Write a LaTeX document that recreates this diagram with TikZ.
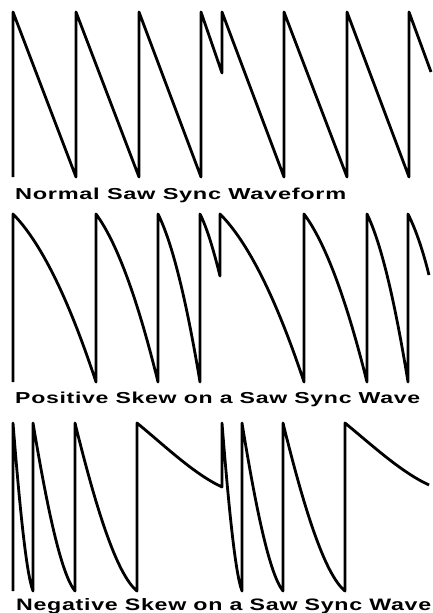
\documentclass[tikz,border=0pt]{standalone}
\usepackage{fontspec}
\usepackage{graphicx}
\usetikzlibrary{positioning}
\newfontfamily\wavefont[LetterSpace=3]{Liberation Sans}

\tikzset{
  wave/.style={draw=black, line width=2.8pt, line join=round},
  wavetitle/.style={anchor=base west, inner sep=0pt, font=\wavefont\bfseries},
}

\begin{document}
\begin{tikzpicture}[x=1pt, y=-1pt]
  \useasboundingbox (0,0) rectangle (433,613);

  % plain saw, reset by the sync at 222
  \draw[wave] (13,177) -- (13,12)
    \foreach \x in {76,139,201} { -- (\x,177) -- (\x,12) }
    -- (222,73) -- (222,12)
    \foreach \x in {284,347,409} { -- (\x,177) -- (\x,12) }
    -- (431,72);
  \node[wavetitle] (normaltitle) at (15,199) {\resizebox{331pt}{11.5pt}{Normal Saw Sync Waveform}};

  % positive skew
  \draw[wave] (13,382) -- (13,214)
    \foreach \a/\b in {13/96,96/158,158/200} {
      .. controls +({(\b-\a)/3},28) and +({(\a-\b)/3},-84) .. (\b,382) -- (\b,214) }
    .. controls +(7,14) and +(-7,-28) .. (220,276) -- (220,214)
    \foreach \a/\b in {220/304,304/367,367/408} {
      .. controls +({(\b-\a)/3},28) and +({(\a-\b)/3},-84) .. (\b,382) -- (\b,214) }
    .. controls +(7,14) and +(-7,-28) .. (429,275);
  \node[wavetitle] (postitle) at (15,403) {\resizebox{405pt}{11.5pt}{Positive Skew on a Saw Sync Wave}};

  % negative skew
  \draw[wave] (13,591) -- (13,423)
    \foreach \a/\b in {13/33,33/75,75/137} {
      .. controls +({(\b-\a)/3},84) and +({(\a-\b)/3},-17) .. (\b,591) -- (\b,423) }
    .. controls +(28,23) and +(-28,-13) .. (222,487) -- (222,423)
    \foreach \a/\b in {222/242,242/283,283/345} {
      .. controls +({(\b-\a)/3},84) and +({(\a-\b)/3},-17) .. (\b,591) -- (\b,423) }
    .. controls +(28,23) and +(-28,-13) .. (429,485);
  \node[wavetitle] (negtitle) at (16,610) {\resizebox{415pt}{12pt}{Negative Skew on a Saw Sync Wave}};
\end{tikzpicture}
\end{document}
